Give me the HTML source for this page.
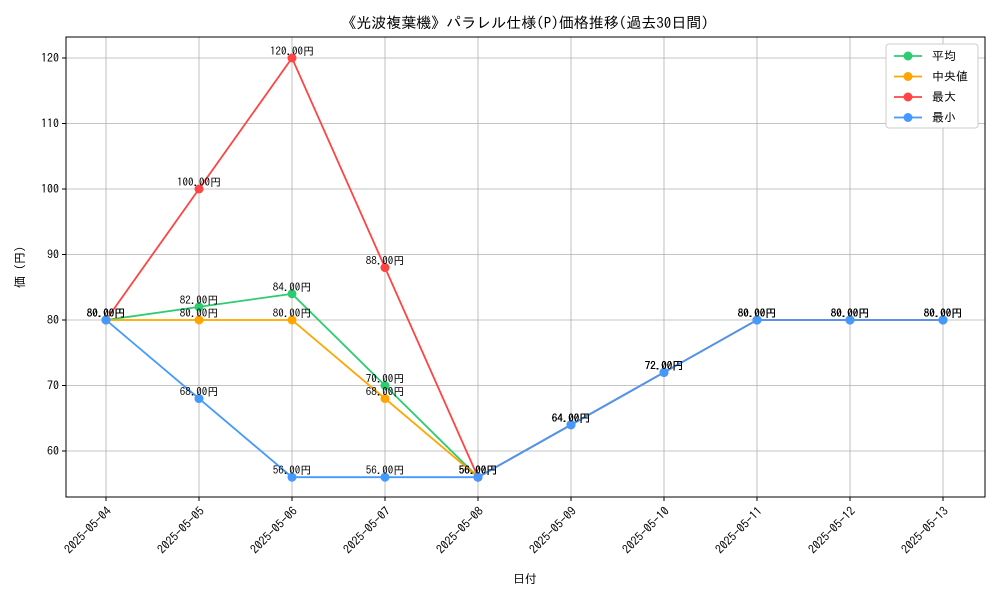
<!DOCTYPE html>
<html><head><meta charset="utf-8"><style>
body{margin:0;background:#fff;}
svg text{font-family:"IPAGothic","Liberation Sans",sans-serif;fill:#000;}
</style></head><body>
<svg id="chart" width="1000" height="600" xmlns="http://www.w3.org/2000/svg">
<rect width="1000" height="600" fill="#fff"/>
<text x="525" y="28" font-size="15" text-anchor="middle">《光波複葉機》パラレル仕様(P)価格推移(過去30日間)</text>
<g id="grid"></g>
<rect x="66" y="37" width="919" height="460" fill="none" stroke="#000" stroke-width="1"/>
<g id="axes"></g>
<g id="series"></g>
<text x="525" y="583" font-size="12" text-anchor="middle">日付</text>
<text x="24" y="267" font-size="12" text-anchor="middle" transform="rotate(-90 24 267)">価 (円)</text>
<g id="legend"></g>
</svg>
<script>
const categories=["2025-05-04","2025-05-05","2025-05-06","2025-05-07","2025-05-08","2025-05-09","2025-05-10","2025-05-11","2025-05-12","2025-05-13"];
const avgValues=[80,82,84,70,56,64,72,80,80,80];
const medianValues=[80,80,80,68,56,64,72,80,80,80];
const maxValues=[80,100,120,88,56,64,72,80,80,80];
const minValues=[80,68,56,56,56,64,72,80,80,80];
const yTicks=[60,70,80,90,100,110,120];
const seriesNames=["平均","中央値","最大","最小"];
const seriesColors=["#2ecc71","#ffa500","#ff4444","#4499ff"];
const seriesData=[avgValues,medianValues,maxValues,minValues];
const NS="http://www.w3.org/2000/svg";
function xs(i){return 106+i*(943-106)/(categories.length-1);}
function ys(v){return 451-(v-60)*(451-58)/60;}
function mk(tag,attrs,parent){const e=document.createElementNS(NS,tag);for(const k in attrs)e.setAttribute(k,attrs[k]);parent.appendChild(e);return e;}
const grid=document.getElementById('grid'),axes=document.getElementById('axes'),ser=document.getElementById('series'),leg=document.getElementById('legend');
categories.forEach((c,i)=>{
 const x=xs(i);
 const g=mk('line',{x1:x,x2:x,y1:37,y2:497,stroke:'#b0b0b0','stroke-width':0.8},grid);
 
 
 const tk=mk('line',{x1:x,x2:x,y1:497,y2:501,stroke:'#000'},axes);
 
 
 const t=mk('text',{x:x,y:506,'font-size':12,'text-anchor':'end',transform:`rotate(-45 ${x} 506)`,dy:'0.7em'},axes);
 t.textContent=c;
 
 
});
yTicks.forEach(v=>{
 const y=ys(v);
 const g=mk('line',{x1:66,x2:985,y1:y,y2:y,stroke:'#b0b0b0','stroke-width':0.8},grid);
 
 
 const tk=mk('line',{x1:62,x2:66,y1:y,y2:y,stroke:'#000'},axes);
 
 
 const t=mk('text',{x:59,y:y+4,'font-size':12,'text-anchor':'end'},axes);
 t.textContent=v;
 
 
});
seriesData.forEach((arr,s)=>{
 const g=mk('g',{},ser);
 
 
 const pl=mk('polyline',{points:arr.map((v,i)=>xs(i)+','+ys(v)).join(' '),fill:'none',stroke:seriesColors[s],'stroke-width':1.8},g);
 
 
 arr.forEach((v,i)=>{
  const c=mk('circle',{cx:xs(i),cy:ys(v),r:4.5,fill:seriesColors[s]},g);
  
  
  const t=mk('text',{x:xs(i),y:ys(v)-3,'font-size':11,'text-anchor':'middle'},g);
  t.textContent=v.toFixed(2)+'円';
  
  
 });
});
const lb=mk('rect',{x:886,y:44,width:92,height:84,fill:'#fff',stroke:'#ccc',rx:3},leg);


seriesNames.forEach((n,s)=>{
 const y=56+s*20.5;
 const g=mk('g',{},leg);
 
 
 mk('line',{x1:894,x2:922,y1:y,y2:y,stroke:seriesColors[s],'stroke-width':1.8},g);
 mk('circle',{cx:908,cy:y,r:4.5,fill:seriesColors[s]},g);
 const t=mk('text',{x:932,y:y+4,'font-size':12},g);
 t.textContent=n;
});
</script>
</body></html>
